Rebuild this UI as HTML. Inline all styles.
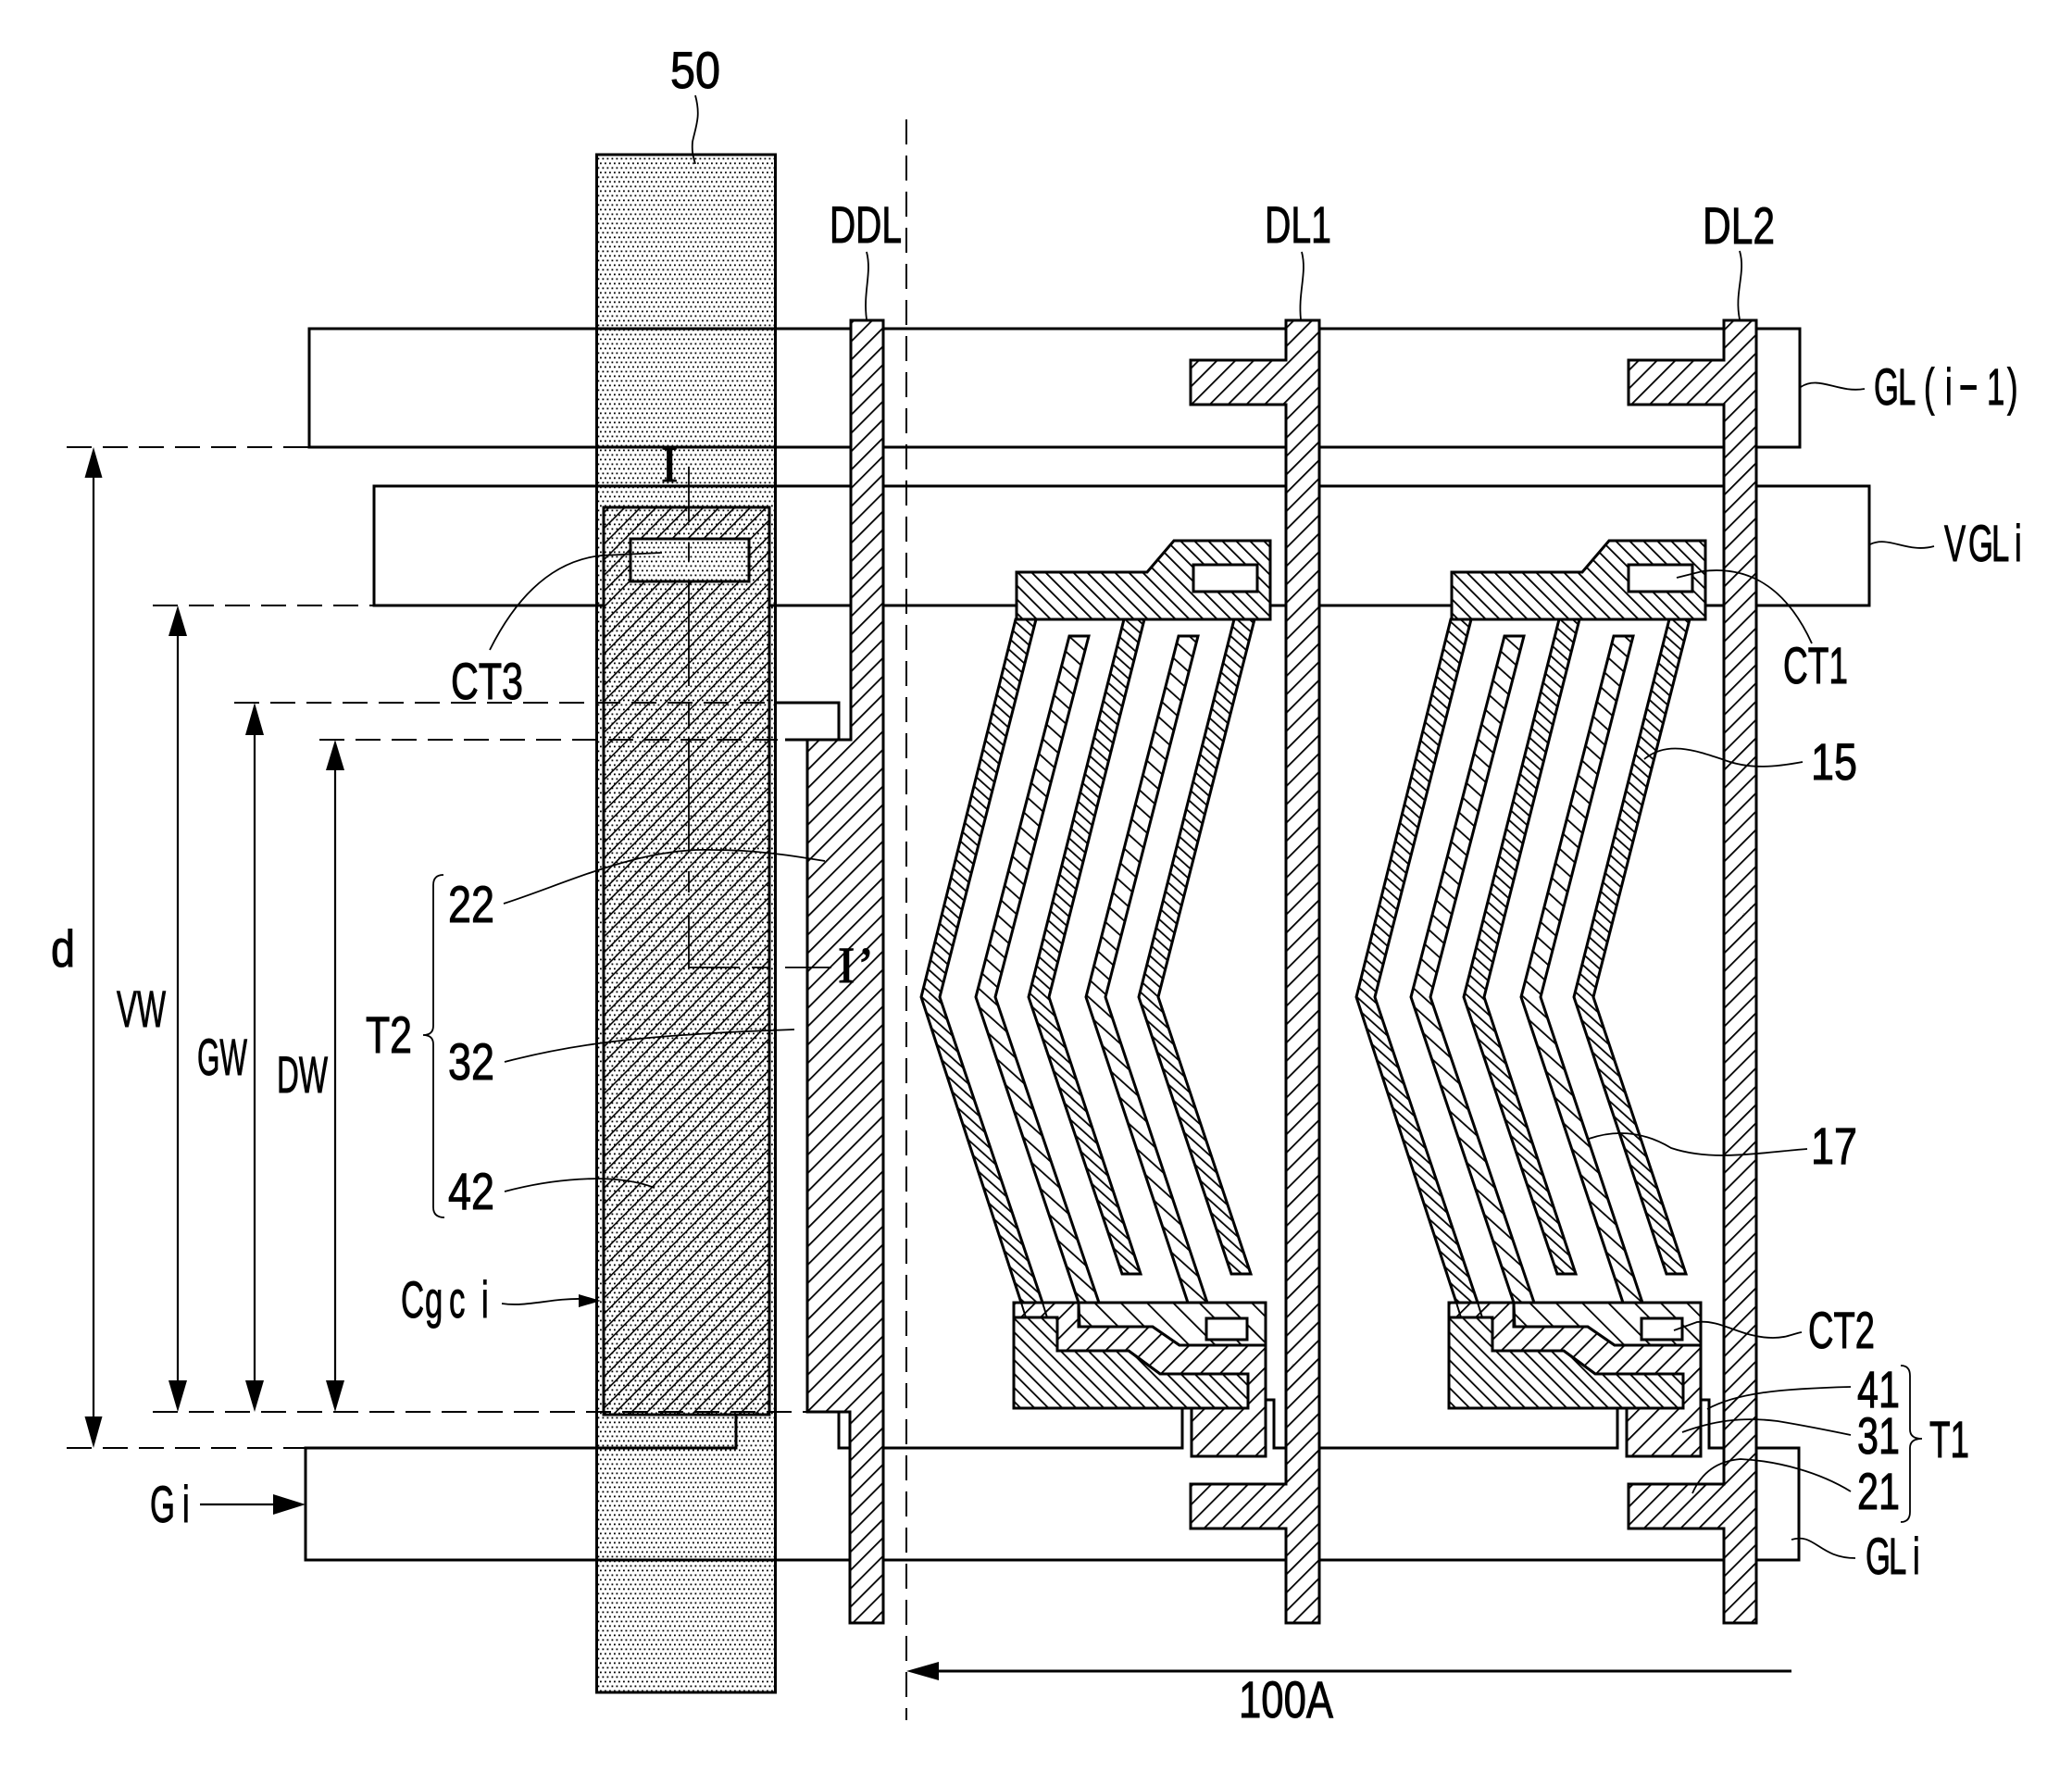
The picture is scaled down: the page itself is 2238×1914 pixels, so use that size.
<!DOCTYPE html>
<html>
<head>
<meta charset="utf-8">
<style>
html,body{margin:0;padding:0;background:#fff;}
svg{display:block;}
text{font-family:"Liberation Sans",sans-serif;font-size:56px;fill:#000;stroke:#000;stroke-width:1px;}
.s{fill:#fff;stroke:#000;stroke-width:3;stroke-linejoin:miter;}
.l{fill:none;stroke:#000;stroke-width:3;}
.t{fill:none;stroke:#000;stroke-width:1.8;}
.a{fill:none;stroke:#000;stroke-width:2.2;}
.d{fill:none;stroke:#000;stroke-width:2;stroke-dasharray:27 12;}
</style>
</head>
<body>
<svg width="2238" height="1914" viewBox="0 0 2238 1914" xmlns="http://www.w3.org/2000/svg">
<defs>
<pattern id="dots" width="5" height="10" patternUnits="userSpaceOnUse">
<rect width="5" height="10" fill="#fff"/>
<rect x="0.5" y="0.5" width="1.8" height="1.8" fill="#000"/>
<rect x="3" y="5.5" width="1.8" height="1.8" fill="#000"/>
</pattern>
<pattern id="h1" width="14" height="14" patternUnits="userSpaceOnUse" patternTransform="rotate(45)">
<rect width="14" height="14" fill="#fff"/><rect x="0" y="0" width="1.8" height="14" fill="#000"/>
</pattern>
<pattern id="h42" width="12" height="12" patternUnits="userSpaceOnUse" patternTransform="rotate(45)">
<rect x="0" y="0" width="1.6" height="12" fill="#000"/>
</pattern>
<pattern id="h3" width="15" height="15" patternUnits="userSpaceOnUse" patternTransform="rotate(45)">
<rect width="15" height="15" fill="#fff"/><rect x="0" y="0" width="1.8" height="15" fill="#000"/>
</pattern>
<pattern id="b1" width="10.6" height="10.6" patternUnits="userSpaceOnUse" patternTransform="rotate(-45)">
<rect width="10.6" height="10.6" fill="#fff"/><rect x="0" y="0" width="1.8" height="10.6" fill="#000"/>
</pattern>
<pattern id="b2" width="20" height="20" patternUnits="userSpaceOnUse" patternTransform="rotate(-45)">
<rect width="20" height="20" fill="#fff"/><rect x="0" y="0" width="1.8" height="20" fill="#000"/>
</pattern>
<pattern id="f1" width="9" height="9" patternUnits="userSpaceOnUse" patternTransform="rotate(-48)">
<rect width="9" height="9" fill="#fff"/><rect x="0" y="0" width="1.8" height="9" fill="#000"/>
</pattern>
<pattern id="f2" width="14.5" height="14.5" patternUnits="userSpaceOnUse" patternTransform="rotate(-48)">
<rect width="14.5" height="14.5" fill="#fff"/><rect x="0" y="0" width="1.8" height="14.5" fill="#000"/>
</pattern>
<g id="px">
<polygon class="s" style="fill:url(#f2)" points="1155,687 1176,687 1075,1077 1187,1407 1165,1407 1054,1077"/>
<polygon class="s" style="fill:url(#f2)" points="1273,687 1294,687 1194,1077 1304,1407 1283,1407 1173,1077"/>
<polygon class="s" style="fill:url(#f1)" points="1097,669 1119,669 1015,1077 1126,1407 1103,1407 995,1077"/>
<polygon class="s" style="fill:url(#f1)" points="1214,669 1236,669 1133,1077 1232,1376 1212,1376 1111,1077"/>
<polygon class="s" style="fill:url(#f1)" points="1333,669 1355,669 1251,1077 1351,1376 1330,1376 1230,1077"/>
<polygon class="s" style="fill:url(#b1)" points="1098,618 1239,618 1268,584 1372,584 1372,669 1098,669"/>
<rect class="s" x="1289" y="610" width="69" height="29"/>
<polygon class="s" style="fill:url(#h3)" points="1095,1407 1165,1407 1165,1433 1245,1433 1274,1453 1367,1453 1367,1573 1287,1573 1287,1521 1348,1521 1348,1484 1253,1484 1219,1459 1142,1459 1142,1423 1095,1423"/>
<polygon class="s" style="fill:url(#b1)" points="1095,1423 1142,1423 1142,1459 1219,1459 1253,1484 1348,1484 1348,1521 1095,1521"/>
<polygon class="s" style="fill:url(#b2)" points="1165,1407 1367,1407 1367,1453 1274,1453 1245,1433 1166,1433"/>
<rect class="s" x="1303" y="1424" width="44" height="23"/>
<path class="l" style="stroke-width:2" d="M1103 1407 L1108 1423 M1126 1407 L1131 1423"/>
</g>
</defs>

<!-- band 50 -->
<rect x="644.5" y="167" width="193" height="1661" fill="url(#dots)" stroke="#000" stroke-width="3"/>

<!-- gate lines -->
<rect class="l" x="334" y="355" width="1610" height="128"/>
<rect class="l" x="404" y="525" width="1615" height="129"/>
<path class="l" d="M795 1528 V1564 H330 V1685 H1943 V1564 H1897 M906 1525 V1564 H1277 V1521 M1367 1512 H1376 V1564 H1747 V1521 M1837 1512 H1846 V1564 H1862"/>

<!-- electrode 42 -->
<rect x="652" y="548" width="179" height="980" fill="url(#dots)"/>
<rect x="652" y="548" width="179" height="980" fill="url(#h42)" stroke="#000" stroke-width="3"/>
<rect x="681" y="582" width="128" height="46" fill="url(#dots)" stroke="#000" stroke-width="3"/>

<!-- data lines -->
<polygon class="s" style="fill:url(#h1)" points="919,346 954,346 954,1753 918,1753 918,1525 872,1525 872,799 919,799"/>
<path class="l" d="M837 759 H906 V799 M848 799 H872 M872 1525 H918"/>
<polygon class="s" style="fill:url(#h1)" points="1389,346 1425,346 1425,1753 1389,1753 1389,1651 1286,1651 1286,1603 1389,1603 1389,437 1286,437 1286,389 1389,389"/>
<polygon class="s" style="fill:url(#h1)" points="1862,346 1897,346 1897,1753 1862,1753 1862,1651 1759,1651 1759,1603 1862,1603 1862,437 1759,437 1759,389 1862,389"/>

<!-- pixels -->
<use href="#px"/>
<use href="#px" transform="translate(470,0)"/>

<!-- dashed lines -->
<path class="d" d="M979 129 V1858"/>
<path class="d" d="M72 483 H334"/>
<path class="d" d="M165 654 H404"/>
<path class="d" d="M253 759 H837"/>
<path class="d" d="M345 799 H848"/>
<path class="d" d="M165 1525 H872"/>
<path class="d" d="M72 1564 H330"/>

<!-- dimension arrows -->
<path class="a" d="M101 500 V1545 M192 670 V1510 M275 775 V1510 M362 815 V1510"/>
<g fill="#000">
<polygon points="101,483 110.5,516 91.5,516"/><polygon points="101,1564 110.5,1530 91.5,1530"/>
<polygon points="192,654 202,687 182,687"/><polygon points="192,1525 202,1491 182,1491"/>
<polygon points="275,759 285,794 265,794"/><polygon points="275,1525 285,1491 265,1491"/>
<polygon points="362,799 372,832 352,832"/><polygon points="362,1525 372,1491 352,1491"/>
<polygon points="330,1625 295,1614 295,1636"/>
<polygon points="979,1805 1014,1795 1014,1815"/>
<polygon points="649,1405 625,1398 625,1412"/>
</g>
<path class="a" d="M216 1625 H300"/>
<path class="l" d="M1000 1805 H1935"/>

<!-- I-I' section -->
<path class="t" d="M744 504 V563 M744 586 V606 M744 629 V741 M744 759 V787 M744 797 V920 M744 941 V964 M744 989 V1045 H799 M812 1045 H832 M848 1045 H898"/>

<!-- leaders -->
<path class="t" d="M751 103 C757 125 752 135 748 153 C747 165 749 170 751 177"/>
<path class="t" d="M936 272 C942 295 932 315 936 345"/>
<path class="t" d="M1406 272 C1412 295 1402 315 1405 345"/>
<path class="t" d="M1879 271 C1886 295 1873 315 1879 345"/>
<path class="t" d="M1945 418 C1965 405 1985 425 2014 420"/>
<path class="t" d="M2020 588 C2040 578 2060 598 2089 590"/>
<path class="t" d="M1811 624 L1839 617 C1880 612 1925 625 1957 695"/>
<path class="t" d="M1776 820 C1800 800 1830 810 1860 820 C1890 832 1920 828 1947 823"/>
<path class="t" d="M1716 1230 C1745 1220 1775 1222 1805 1240 C1850 1255 1900 1245 1952 1241"/>
<path class="t" d="M1808 1437 L1833 1428 C1860 1425 1880 1445 1915 1445 C1930 1445 1935 1441 1946 1439"/>
<path class="t" d="M1844 1522 C1875 1505 1920 1500 1999 1498"/>
<path class="t" d="M1817 1547 C1850 1535 1880 1530 1920 1535 C1950 1540 1975 1545 1999 1550"/>
<path class="t" d="M1828 1613 C1838 1590 1855 1578 1880 1576 C1920 1578 1965 1590 1999 1611"/>
<path class="t" d="M1935 1663 C1960 1655 1965 1683 2004 1683"/>
<path class="t" d="M529 702 C560 640 600 605 650 600 L715 597"/>
<path class="t" d="M544 976 C610 955 690 915 770 918 C820 918 860 925 891 930"/>
<path class="t" d="M545 1147 C610 1130 680 1118 858 1112"/>
<path class="t" d="M545 1287 C590 1275 660 1265 707 1283"/>
<path class="t" d="M542 1408 C570 1412 595 1402 630 1403"/>

<!-- braces -->
<path class="t" d="M479 945 Q468 945 468 956 V1108 Q468 1118 457 1118 Q468 1118 468 1128 V1304 Q468 1315 480 1315"/>
<path class="t" d="M2053 1475 Q2063 1475 2063 1486 V1544 Q2063 1554 2076 1554 Q2063 1554 2063 1564 V1633 Q2063 1644 2053 1644"/>

<!-- labels -->
<text x="724" y="95" textLength="54" lengthAdjust="spacingAndGlyphs">50</text>
<text x="896" y="262" textLength="78" lengthAdjust="spacingAndGlyphs">DDL</text>
<text x="1366" y="262" textLength="72" lengthAdjust="spacingAndGlyphs">DL1</text>
<text x="1839" y="263" textLength="78" lengthAdjust="spacingAndGlyphs">DL2</text>
<text transform="scale(.62,1)" y="437" x="3264.5 3306.5 3351.6 3388.7 3412.9 3461.3 3496.8">GL(i−1)</text>
<text transform="scale(.62,1)" y="606" x="3387.1 3429 3469.4 3509.7">VGLi</text>
<text x="1926" y="738" textLength="70" lengthAdjust="spacingAndGlyphs">CT1</text>
<text x="487" y="755" textLength="78" lengthAdjust="spacingAndGlyphs">CT3</text>
<text x="1953" y="1456" textLength="72" lengthAdjust="spacingAndGlyphs">CT2</text>
<text x="1956" y="842" textLength="50" lengthAdjust="spacingAndGlyphs">15</text>
<text x="1956" y="1257" textLength="50" lengthAdjust="spacingAndGlyphs">17</text>
<text x="484" y="996" textLength="50" lengthAdjust="spacingAndGlyphs">22</text>
<text x="484" y="1166" textLength="50" lengthAdjust="spacingAndGlyphs">32</text>
<text x="484" y="1306" textLength="50" lengthAdjust="spacingAndGlyphs">42</text>
<text x="2006" y="1520" textLength="46" lengthAdjust="spacingAndGlyphs">41</text>
<text x="2006" y="1570" textLength="46" lengthAdjust="spacingAndGlyphs">31</text>
<text x="2006" y="1630" textLength="46" lengthAdjust="spacingAndGlyphs">21</text>
<text x="2084" y="1574" textLength="43" lengthAdjust="spacingAndGlyphs">T1</text>
<text x="395" y="1137" textLength="50" lengthAdjust="spacingAndGlyphs">T2</text>
<text x="126" y="1109" textLength="53" lengthAdjust="spacingAndGlyphs">VW</text>
<text x="213" y="1161" textLength="54" lengthAdjust="spacingAndGlyphs">GW</text>
<text x="299" y="1180" textLength="55" lengthAdjust="spacingAndGlyphs">DW</text>
<text x="55" y="1044" textLength="26" lengthAdjust="spacingAndGlyphs">d</text>
<text transform="scale(.62,1)" y="1423" x="698.4 740.3 782.3 838.7">Cgci</text>
<text transform="scale(.62,1)" y="1644" x="261.3 317.7">Gi</text>
<text transform="scale(.62,1)" y="1700" x="3250 3290.3 3332.3">GLi</text>
<text x="1338" y="1855" textLength="102" lengthAdjust="spacingAndGlyphs">100A</text>
<text x="714" y="520" style="font-family:'Liberation Serif',serif;font-size:55px">I</text>
<text x="905 926" y="1061" style="font-family:'Liberation Serif',serif;font-size:55px">I’</text>
</svg>
</body>
</html>
